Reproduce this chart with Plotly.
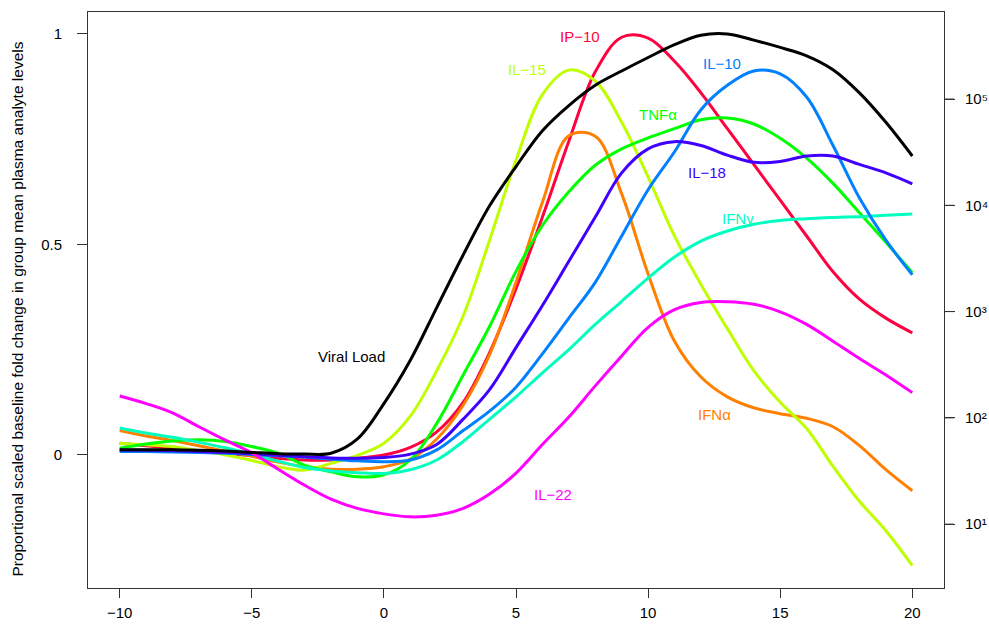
import math
import plotly.graph_objects as go

# ---------------- data ----------------
days = list(range(-10, 21))

# viral load, log10 copies (right axis)
viral_load_log10 = [1.699, 1.699, 1.699, 1.695, 1.687, 1.675, 1.663, 1.659, 1.667, 1.802,
                    2.134, 2.542, 3.038, 3.533, 3.996, 4.365, 4.702, 4.939, 5.130, 5.264,
                    5.391, 5.512, 5.601, 5.613, 5.554, 5.486, 5.407, 5.276, 5.058, 4.781,
                    4.464]

ip10 = [0.028, 0.022, 0.016, 0.010, 0.004, -0.002, -0.008, -0.012, -0.012, -0.008,
        0.000, 0.018, 0.055, 0.125, 0.243, 0.395, 0.565, 0.745, 0.910, 0.992,
        0.990, 0.935, 0.860, 0.775, 0.690, 0.605, 0.520, 0.435, 0.370, 0.325,
        0.290]

ifna = [0.058, 0.045, 0.034, 0.022, 0.009, -0.003, -0.017, -0.028, -0.034, -0.034,
        -0.028, -0.010, 0.038, 0.118, 0.238, 0.410, 0.600, 0.758, 0.757, 0.620,
        0.430, 0.270, 0.185, 0.138, 0.112, 0.098, 0.087, 0.067, 0.022, -0.035,
        -0.085]

il15 = [0.027, 0.024, 0.020, 0.010, 0.000, -0.013, -0.028, -0.036, -0.020, -0.001,
        0.028, 0.092, 0.200, 0.330, 0.510, 0.700, 0.856, 0.914, 0.888, 0.790,
        0.660, 0.520, 0.405, 0.300, 0.200, 0.125, 0.063, -0.027, -0.110, -0.180,
        -0.263]

tnfa = [0.016, 0.026, 0.033, 0.036, 0.032, 0.020, 0.004, -0.024, -0.040, -0.052,
        -0.047, -0.012, 0.075, 0.190, 0.305, 0.436, 0.545, 0.625, 0.688, 0.727,
        0.753, 0.775, 0.796, 0.800, 0.786, 0.752, 0.705, 0.645, 0.575, 0.505,
        0.433]

ifng = [0.064, 0.052, 0.042, 0.030, 0.017, 0.002, -0.015, -0.030, -0.038, -0.042,
        -0.044, -0.035, -0.012, 0.032, 0.085, 0.138, 0.195, 0.250, 0.310, 0.365,
        0.420, 0.470, 0.508, 0.532, 0.548, 0.557, 0.561, 0.564, 0.566, 0.569,
        0.572]

il10 = [0.008, 0.008, 0.007, 0.006, 0.004, 0.001, -0.002, -0.005, -0.010, -0.014,
        -0.016, -0.012, 0.012, 0.058, 0.104, 0.161, 0.240, 0.325, 0.410, 0.520,
        0.630, 0.720, 0.820, 0.878, 0.912, 0.905, 0.850, 0.735, 0.610, 0.510,
        0.428]

il18 = [0.012, 0.011, 0.010, 0.008, 0.006, 0.003, -0.001, -0.004, -0.007, -0.008,
        -0.006, 0.002, 0.025, 0.085, 0.155, 0.255, 0.355, 0.460, 0.565, 0.670,
        0.727, 0.744, 0.735, 0.712, 0.695, 0.697, 0.710, 0.710, 0.690, 0.670,
        0.644]

il22 = [0.140, 0.122, 0.100, 0.067, 0.035, 0.005, -0.034, -0.072, -0.105, -0.127,
        -0.140, -0.147, -0.143, -0.127, -0.093, -0.043, 0.025, 0.090, 0.164, 0.235,
        0.303, 0.345, 0.362, 0.364, 0.358, 0.340, 0.310, 0.270, 0.229, 0.190,
        0.148]

analyte_names = ["IP−10", "IFNα", "IL−15", "TNFα", "IFNγ", "IL−10", "IL−18", "IL−22"]
analyte_values = [ip10, ifna, il15, tnfa, ifng, il10, il18, il22]

x_ticks = [-10, -5, 0, 5, 10, 15, 20]
y_ticks = [0, 0.5, 1]
y_tick_labels = ["0", "0.5", "1"]
vl_ticks = [1e1, 1e2, 1e3, 1e4, 1e5]
vl_tick_labels = ["10¹", "10²", "10³", "10⁴", "10⁵"]

# ---------------- styles ----------------
colors = {
    "IP−10": "#FF0040", "IFNα": "#FF8000", "IL−15": "#BFFF00", "TNFα": "#00FF00",
    "IFNγ": "#00FFBF", "IL−10": "#0080FF", "IL−18": "#4000FF", "IL−22": "#FF00FF",
    "Viral Load": "#000000",
}
label_pos = {
    "Viral Load": (-1.21, 0.235), "IP−10": (7.42, 0.994), "IL−15": (5.40, 0.916),
    "IL−10": (12.79, 0.930), "TNFα": (10.36, 0.808), "IL−18": (12.22, 0.671),
    "IFNγ": (13.39, 0.562), "IFNα": (12.53, 0.095), "IL−22": (6.40, -0.093),
}

FONT = "Liberation Sans, Arial, Helvetica, sans-serif"
AX = "#333333"
PLOT_W = 856      # plot box width in px
RTICK = 10        # right tick length in px

fig = go.Figure()
for name, vals in zip(analyte_names, analyte_values):
    fig.add_trace(go.Scatter(x=days, y=vals, mode="lines", name=name,
                             line=dict(color=colors[name], width=3, shape="spline", smoothing=1.0),
                             xaxis="x", yaxis="y"))

fig.add_trace(go.Scatter(x=days, y=[10 ** v for v in viral_load_log10], mode="lines",
                         name="Viral Load",
                         line=dict(color="#000000", width=3, shape="spline", smoothing=1.0),
                         xaxis="x", yaxis="y2"))

for name, (lx, ly) in label_pos.items():
    fig.add_annotation(x=lx, y=ly, xref="x", yref="y", text=name, showarrow=False,
                       font=dict(family=FONT, size=15, color=colors[name]),
                       xanchor="center", yanchor="middle")

fig.add_annotation(x=-0.0818, y=0.485, xref="paper", yref="paper", textangle=-90,
                   text="Proportional scaled baseline fold change in group mean plasma analyte levels",
                   showarrow=False, font=dict(family=FONT, size=15.5, color="#000000"),
                   xanchor="center", yanchor="middle")

# y-range in proportional units and the matching log range of the right axis
y_lo, y_hi = -0.316, 1.052
vl0, vl_per_unit = 1.651, 3.962

# right-axis tick marks, placed through the same proportional/log mapping
for v in vl_ticks:
    yy = (math.log10(v) - vl0) / vl_per_unit
    fig.add_shape(type="line", xref="paper", yref="y", x0=1.0, x1=1.0 + RTICK / PLOT_W,
                  y0=yy, y1=yy, line=dict(color=AX, width=1), layer="above")

# plot box at x 88-944, y 12-588 (page body margin removed below)
fig.update_layout(
    width=989, height=624,
    margin=dict(l=88, r=45, t=12, b=36, autoexpand=False),
    paper_bgcolor="white", plot_bgcolor="white",
    showlegend=False,
    font=dict(family=FONT, size=15, color="#000000"),
    xaxis=dict(range=[-11.2, 21.2], tickvals=x_ticks, ticks="outside", ticklen=9,
               tickcolor=AX, tickwidth=1, showline=True, mirror=True, linecolor=AX,
               linewidth=1, showgrid=False, zeroline=False, automargin=False,
               ticklabelstandoff=2,
               tickfont=dict(family=FONT, size=15, color="#000000")),
    yaxis=dict(range=[y_lo, y_hi], tickvals=y_ticks, ticktext=y_tick_labels,
               ticks="outside", ticklen=10, tickcolor=AX, tickwidth=1,
               showline=True, mirror=True, linecolor=AX, linewidth=1,
               showgrid=False, zeroline=False, ticklabelstandoff=12, automargin=False,
               tickfont=dict(family=FONT, size=15, color="#000000")),
    yaxis2=dict(overlaying="y", anchor="x", side="right", type="log",
                range=[vl0 + vl_per_unit * y_lo, vl0 + vl_per_unit * y_hi],
                tickmode="array", tickvals=vl_ticks, ticktext=vl_tick_labels,
                ticks="outside", ticklen=RTICK, tickcolor=AX, tickwidth=1,
                showticklabels=True, showline=False, showgrid=False, zeroline=False,
                automargin=False, ticklabelstandoff=7,
                tickfont=dict(family=FONT, size=15, color="#000000")),
)

fig.write_html("out.html",
               config={"displayModeBar": False},
               post_script="document.body.style.margin='0';document.body.style.overflow='hidden';")
